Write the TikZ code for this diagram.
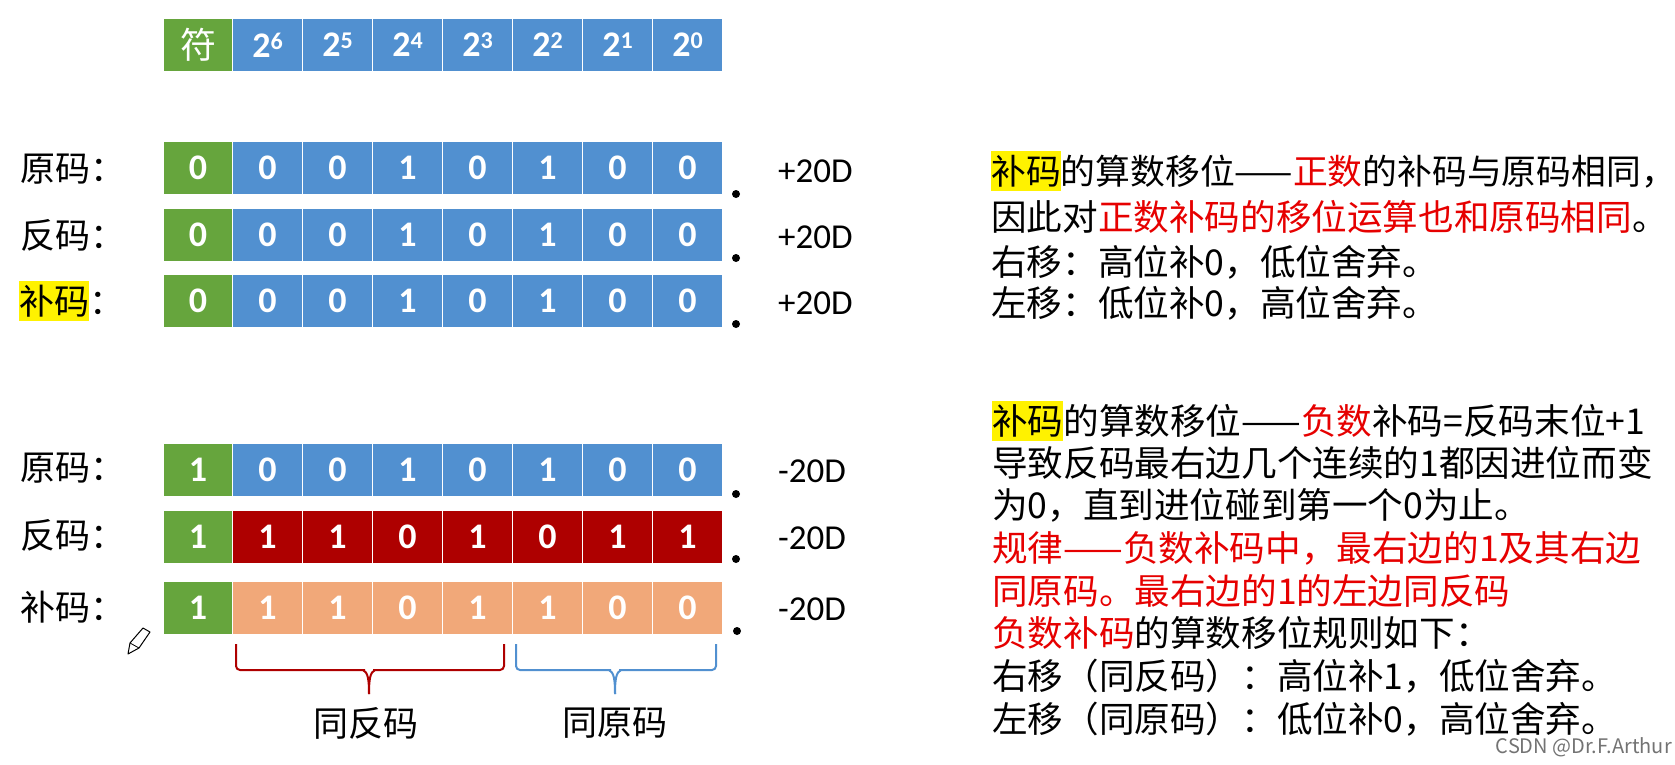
\documentclass[tikz,border=0pt]{standalone}
\usepackage{fontspec}
\setmainfont{Noto Sans CJK SC}
\newfontfamily\digitfont{Carlito}
\definecolor{cellblue}{HTML}{5190D0}
\definecolor{cellgreen}{HTML}{66A53D}
\definecolor{celldark}{HTML}{AE0000}
\definecolor{cellpeach}{HTML}{F1A879}
\definecolor{txtred}{HTML}{E60000}
\newcommand{\hlt}[1]{{\setlength{\fboxsep}{0pt}\colorbox{yellow}{\rule[-7pt]{0pt}{40pt}#1}}}
\newcommand{\rd}[1]{\textcolor{txtred}{#1}}
\newcommand{\pw}[2]{#1\raisebox{8pt}{\fontsize{24}{24}\selectfont #2}}
\newcommand{\bitrow}[5]{% name, y, fill, sign, digits
  \node[bitcell,fill=cellgreen] (#1s) at (198,#2) {#4};
  \foreach \d [count=\i] in {#5} {
    \pgfmathsetmacro{\xx}{197.5+70*\i}
    \node[bitcell,fill=#3] (#1c\i) at (\xx,#2) {\d};
  }
}
\tikzset{
  bitcell/.style={minimum width=69.5pt,minimum height=53.5pt,inner sep=0pt,draw=white,line width=0.8pt,text=white,font=\digitfont\fontsize{36}{36}\selectfont\bfseries},
  rowlabel/.style={anchor=west,inner sep=0pt,text height=33pt,text depth=7pt,font=\fontsize{35}{38}\selectfont},
  valuelabel/.style={anchor=west,inner sep=0pt,font=\digitfont\fontsize{35}{38}\selectfont},
  bodyline/.style={anchor=west,inner sep=0pt,text height=33pt,text depth=7pt,font=\fontsize{35.6}{38}\selectfont},
  pointdot/.style={circle,fill=black,inner sep=0pt,minimum size=8pt},
  bracelabel/.style={inner sep=0pt,font=\fontsize{35}{38}\selectfont},
  bracepath/.style={line width=2pt,rounded corners=4pt},
}
\begin{document}
\begin{tikzpicture}[x=1pt,y=-1pt]
\useasboundingbox (0,0) rectangle (1675,765);
% header
\node[bitcell,fill=cellgreen,font=\fontsize{36}{38}\selectfont] (hs) at (198,45) {符};
\foreach \p [count=\i] in {6,5,4,3,2,1,0} {
  \pgfmathsetmacro{\xx}{197.5+70*\i}
  \node[bitcell,fill=cellblue] (h\i) at (\xx,45) {\pw{2}{\p}};
}
% rows
\bitrow{a}{168}{cellblue}{0}{0,0,1,0,1,0,0}
\bitrow{b}{235}{cellblue}{0}{0,0,1,0,1,0,0}
\bitrow{d}{301}{cellblue}{0}{0,0,1,0,1,0,0}
\bitrow{e}{470}{cellblue}{1}{0,0,1,0,1,0,0}
\bitrow{f}{537}{celldark}{1}{1,1,0,1,0,1,1}
\bitrow{g}{608}{cellpeach}{1}{1,1,0,1,1,0,0}
% row labels
\node[rowlabel] (la) at (20,168) {原码：};
\node[rowlabel] (lb) at (20,235) {反码：};
\node[rowlabel] (ld) at (19,301) {\hlt{补码}：};
\node[rowlabel] (le) at (20,467) {原码：};
\node[rowlabel] (lf) at (20,535) {反码：};
\node[rowlabel] (lg) at (20,607) {补码：};
% values
\node[valuelabel] (va) at (778,171) {+20D};
\node[valuelabel] (vb) at (778,237) {+20D};
\node[valuelabel] (vd) at (778,303) {+20D};
\node[valuelabel] (ve) at (778,471) {-20D};
\node[valuelabel] (vf) at (778,538) {-20D};
\node[valuelabel] (vg) at (778,609) {-20D};
% binary points
\node[pointdot] (pa) at (736,194) {};
\node[pointdot] (pb) at (736,258) {};
\node[pointdot] (pd) at (736,324) {};
\node[pointdot] (pe) at (736,494) {};
\node[pointdot] (pf) at (736,559) {};
\node[pointdot] (pg) at (737,631) {};
% braces
\coordinate (ra) at (236,644);
\coordinate (rb) at (504,644);
\coordinate (rt) at (369,694);
\coordinate (ba) at (516,644);
\coordinate (bb) at (716,644);
\coordinate (bt) at (615,694);
\draw[bracepath,draw=celldark] (ra) -- (ra |- 0,670) -- (365,670);
\draw[bracepath,draw=celldark] (rb) -- (rb |- 0,670) -- (373,670);
\draw[draw=celldark,line width=2pt] (rt) .. controls (369,680) and (368,672) .. (363,670);
\draw[draw=celldark,line width=2pt] (rt) .. controls (369,680) and (370,672) .. (375,670);
\draw[bracepath,draw=cellblue] (ba) -- (ba |- 0,670) -- (611,670);
\draw[bracepath,draw=cellblue] (bb) -- (bb |- 0,670) -- (619,670);
\draw[draw=cellblue,line width=2pt] (bt) .. controls (615,680) and (614,672) .. (609,670);
\draw[draw=cellblue,line width=2pt] (bt) .. controls (615,680) and (616,672) .. (621,670);
\node[bracelabel] (ls) at (366,723) {同反码};
\node[bracelabel] (lo) at (615,723) {同原码};
% pencil
\draw[line width=1pt,fill=white,line join=round] (128,654) -- (130,643) -- (143,628) -- (150,632) -- (139,648) -- cycle;
\draw[line width=0.8pt] (130,643) -- (139,648);
% text block 1
\node[bodyline,font=\fontsize{34.8}{38}\selectfont] (t1) at (991,171) {\hlt{补码}的算数移位——\rd{正数}的补码与原码相同，};
\node[bodyline] (t2) at (991,217) {因此对\rd{正数补码的移位运算也和原码相同}。};
\node[bodyline] (t3) at (991,262) {右移：高位补0，低位舍弃。};
\node[bodyline] (t4) at (991,303) {左移：低位补0，高位舍弃。};
% text block 2
\node[bodyline] (u1) at (992,421) {\hlt{补码}的算数移位——\rd{负数}补码=反码末位+1};
\node[bodyline] (u2) at (992,463) {导致反码最右边几个连续的1都因进位而变};
\node[bodyline] (u3) at (992,505) {为0，直到进位碰到第一个0为止。};
\node[bodyline] (u4) at (992,548) {\rd{规律——负数补码中，最右边的1及其右边}};
\node[bodyline] (u5) at (992,591) {\rd{同原码。最右边的1的左边同反码}};
\node[bodyline] (u6) at (992,633) {\rd{负数补码}的算数移位规则如下：};
\node[bodyline] (u7) at (992,676) {右移（同反码）：高位补1，低位舍弃。};
\node[bodyline] (u8) at (992,719) {左移（同原码）：低位补0，高位舍弃。};
% watermark
\node[anchor=east,inner sep=0pt,text=black!55,font=\fontsize{20}{22}\selectfont] (wm) at (1672,747) {CSDN @Dr.F.Arthur};
\end{tikzpicture}
\end{document}
